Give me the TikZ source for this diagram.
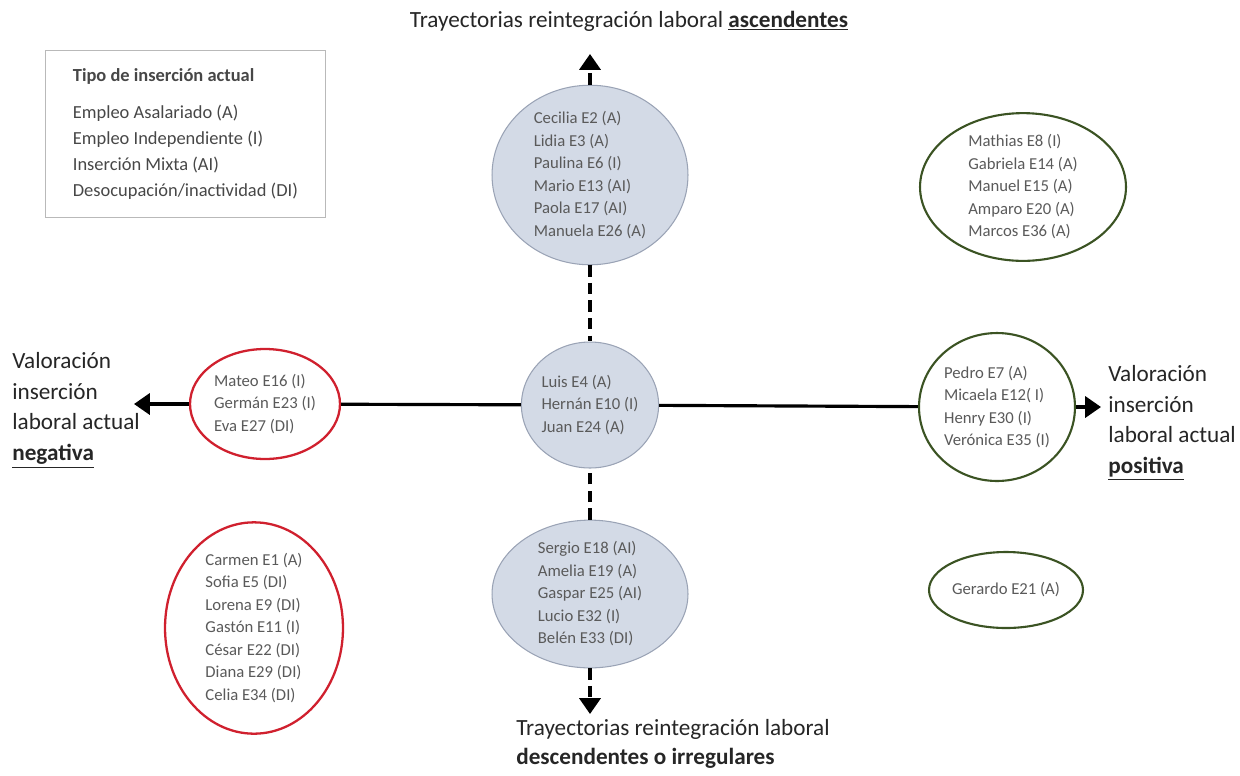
\documentclass[tikz,border=0pt]{standalone}
\usepackage{fontspec}
\setmainfont{Carlito}
\usetikzlibrary{
    arrows.meta,
    shapes.geometric,
    positioning
}
\definecolor{relleno}{HTML}{D3DAE6}
\definecolor{borde}{HTML}{9AA3B5}
\definecolor{rojo}{HTML}{D0202E}
\definecolor{verde}{HTML}{3B5323}
\definecolor{texto}{HTML}{5A5A5A}
\definecolor{titulo}{HTML}{262626}

\begin{document}
\begin{tikzpicture}[x=0.02cm,y=-0.02cm,
    grupo/.style={ellipse,inner sep=0pt,align=left,text=texto,font=\fontsize{9.5}{12.8}\selectfont},
    medio/.style={grupo,draw=borde,fill=relleno,line width=0.6pt},
    negativo/.style={grupo,draw=rojo,fill=white,line width=1.3pt},
    positivo/.style={grupo,draw=verde,fill=white,line width=1.2pt},
    linea/.style={line width=1.8pt},
    trazos/.style={dashed,dash pattern=on 6.5pt off 3.5pt},
    eje/.style={linea,-{Triangle[width=12pt,length=9pt]}},
    rotulo/.style={align=left,text=titulo,inner sep=0pt,font=\fontsize{13.2}{17.5}\selectfont}]
				\useasboundingbox (0,0) rectangle (1240,775);
				\coordinate (uptip) at (590,54);
				\coordinate (downtip) at (590,714);
				\coordinate (negtip) at (134,404);
				\coordinate (postip) at (1101,407);
				% eje central
				\node at (590,405) [medio,minimum width=2.56cm,minimum height=2.52cm] (mid) {Luis E4 (A)\\Hernán E10 (I)\\Juan E24 (A)};
				\node at (590,175) [medio,minimum width=3.92cm,minimum height=3cm] (up) {Cecilia E2 (A)\\Lidia E3 (A)\\Paulina E6 (I)\\Mario E13 (AI)\\Paola E17 (AI)\\Manuela E26 (A)}
					edge[linea,trazos] (mid)
					edge[eje,trazos] (uptip);
				\node at (590,594) [medio,minimum width=3.92cm,minimum height=2.68cm] (down) {Sergio E18 (AI)\\Amelia E19 (A)\\Gaspar E25 (AI)\\Lucio E32 (I)\\Belén E33 (DI)}
					edge[linea,trazos] (mid)
					edge[eje,trazos] (downtip);
				\node at (265,404) [negativo,minimum width=3cm,minimum height=2.2cm] (neg) {Mateo E16 (I)\\Germán E23 (I)\\Eva E27 (DI)}
					edge[linea] (mid)
					edge[eje] (negtip);
				\node at (997,407) [positivo,minimum width=3.12cm,minimum height=2.96cm] (pos) {Pedro E7 (A)\\Micaela E12( I)\\Henry E30 (I)\\Verónica E35 (I)}
					edge[linea] (mid)
					edge[eje] (postip);
				% cuadrantes
				\node at (1023,187) [positivo,minimum width=4.12cm,minimum height=2.92cm] (posup) {Mathias E8 (I)\\Gabriela E14 (A)\\Manuel E15 (A)\\Amparo E20 (A)\\Marcos E36 (A)};
				\node at (1006,590) [positivo,minimum width=3.08cm,minimum height=1.52cm] (posdown) {Gerardo E21 (A)};
				\node at (254,628) [negativo,minimum width=3.56cm,minimum height=4.12cm] (negdown) {Carmen E1 (A)\\Sofia E5 (DI)\\Lorena E9 (DI)\\Gastón E11 (I)\\César E22 (DI)\\Diana E29 (DI)\\Celia E34 (DI)};
				% leyenda
				\node at (45,50) [anchor=north west,draw=gray!55,line width=0.5pt,align=left,text=titulo!85,minimum width=5.6cm,minimum height=3.34cm,font=\fontsize{10.5}{14.8}\selectfont] (tipos) {\textbf{Tipo de inserción actual}\\[6pt]Empleo Asalariado (A)\\Empleo Independiente (I)\\Inserción Mixta (AI)\\Desocupación/inactividad (DI)};
				% rotulos de los ejes
				\node at (629,21) [rotulo] (ascend) {Trayectorias reintegración laboral \underline{\textbf{ascendentes}}};
				\node at (516,719) [rotulo,anchor=north west,font=\fontsize{13.2}{16.5}\selectfont] (descend) {Trayectorias reintegración laboral\\\textbf{descendentes o irregulares}};
				\node at (12,352) [rotulo,anchor=north west] (negativa) {Valoración\\inserción\\laboral actual\\\underline{\textbf{negativa}}};
				\node at (1108,365) [rotulo,anchor=north west] (positiva) {Valoración\\inserción\\laboral actual\\\underline{\textbf{positiva}}};
			\end{tikzpicture}
\end{document}
